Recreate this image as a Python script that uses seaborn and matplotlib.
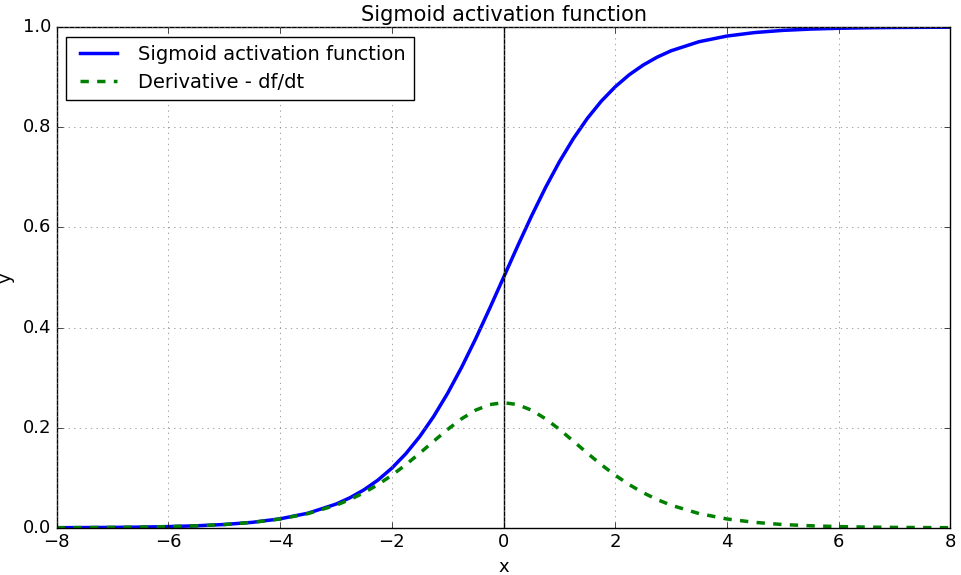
import matplotlib
matplotlib.use("Agg")
import matplotlib.pyplot as plt
import seaborn as sns
import pandas as pd

x = [-8, -7.5, -7, -6.5, -6, -5.5, -5, -4.5, -4, -3.5, -3,
     -2.75, -2.5, -2.25, -2, -1.75, -1.5, -1.25, -1, -0.75, -0.5, -0.25,
     0,
     0.25, 0.5, 0.75, 1, 1.25, 1.5, 1.75, 2, 2.25, 2.5, 2.75,
     3, 3.5, 4, 4.5, 5, 5.5, 6, 6.5, 7, 7.5, 8]
sigmoid = [0.0003, 0.0006, 0.0009, 0.0015, 0.0025, 0.0041, 0.0067, 0.0110, 0.0180, 0.0293, 0.0474,
           0.0601, 0.0759, 0.0953, 0.1192, 0.1480, 0.1824, 0.2227, 0.2689, 0.3208, 0.3775, 0.4378,
           0.5,
           0.5622, 0.6225, 0.6792, 0.7311, 0.7773, 0.8176, 0.8520, 0.8808, 0.9047, 0.9241, 0.9399,
           0.9526, 0.9707, 0.9820, 0.9890, 0.9933, 0.9959, 0.9975, 0.9985, 0.9991, 0.9994, 0.9997]
derivative = [0.0003, 0.0006, 0.0009, 0.0015, 0.0025, 0.0041, 0.0066, 0.0109, 0.0177, 0.0285, 0.0452,
              0.0565, 0.0701, 0.0862, 0.1050, 0.1261, 0.1491, 0.1731, 0.1966, 0.2179, 0.2350, 0.2461,
              0.25,
              0.2461, 0.2350, 0.2179, 0.1966, 0.1731, 0.1491, 0.1261, 0.1050, 0.0862, 0.0701, 0.0565,
              0.0452, 0.0285, 0.0177, 0.0109, 0.0066, 0.0041, 0.0025, 0.0015, 0.0009, 0.0006, 0.0003]

df = pd.DataFrame({"x": x, "s": sigmoid, "d": derivative})

plt.style.use("classic")
fig, ax = plt.subplots(figsize=(9.61, 5.75), dpi=100)
fig.patch.set_facecolor("white")
fig.subplots_adjust(left=0.059, right=0.989, top=0.953, bottom=0.082)

sns.lineplot(data=df, x="x", y="s", ax=ax, color="blue", lw=2.5,
             label="Sigmoid activation function")
sns.lineplot(data=df, x="x", y="d", ax=ax, color="green", lw=2.5, linestyle="--",
             label="Derivative - df/dt")
ax.axvline(0, color="black", lw=1)
ax.set_xlim(-8, 8)
ax.set_ylim(0, 1)
ax.grid(True, color="gray", linestyle=":")
ax.set_xlabel("x", fontsize=13)
ax.set_ylabel("y", fontsize=13, labelpad=2)
ax.yaxis.set_label_coords(-0.047, 0.5)
ax.set_title("Sigmoid activation function", fontsize=15, pad=4)
ax.tick_params(labelsize=13)
ax.legend(loc="upper left", fontsize=14, handlelength=2.5)
fig.savefig("out.png", dpi=100, facecolor="white")
